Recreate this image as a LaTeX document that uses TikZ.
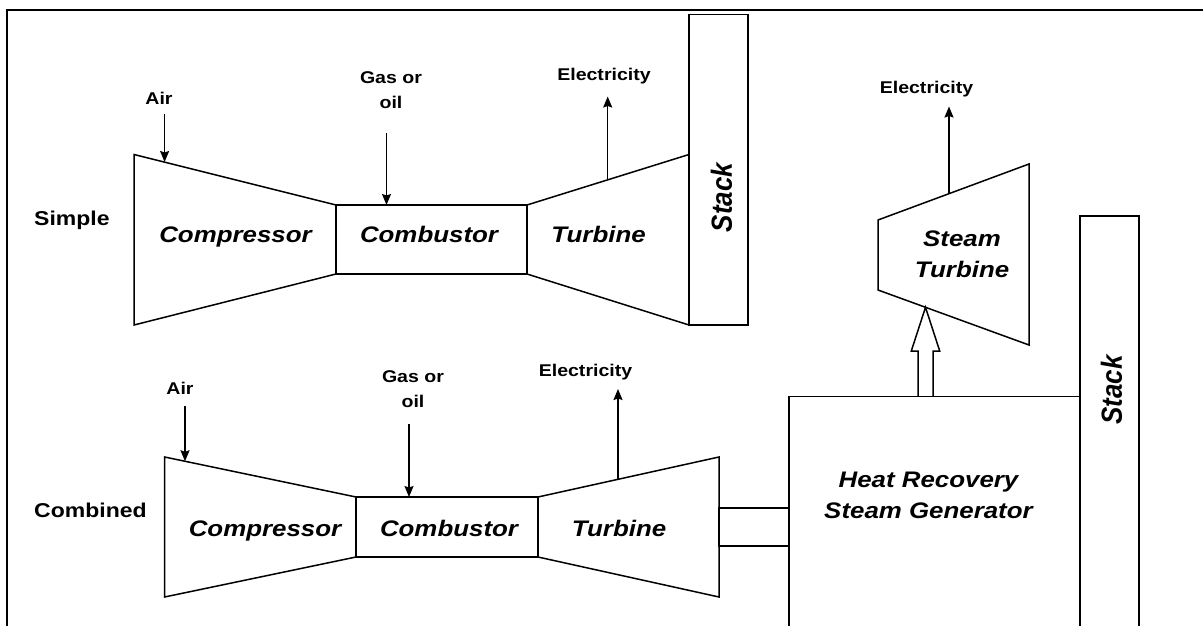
\documentclass[tikz,border=0pt]{standalone}
\usepackage{fontspec}
\usepackage{graphicx}
\setmainfont[FakeStretch=1.15]{Liberation Sans}
\newfontfamily\stackfont{Liberation Sans}
\usetikzlibrary{arrows.meta}
\tikzset{
  part/.style={draw, line width=1.5pt, line join=miter},
  frameline/.style={line width=2.8pt},
  flow/.style={line width=1.5pt, -{Stealth[length=11pt,width=9pt,inset=1.5pt]}},
  lbl/.style={font=\bfseries\fontsize{17}{24.5}\selectfont, inner sep=0pt, align=center},
  rowlbl/.style={font=\bfseries\fontsize{20}{24}\selectfont, inner sep=0pt},
  big/.style={font=\bfseries\itshape\fontsize{22.5}{31}\selectfont, inner sep=0pt, align=center},
  stacklbl/.style={rotate=90, inner sep=0pt}
}
\newcommand{\stacktext}{\scalebox{1}[1.12]{\stackfont\bfseries\itshape\fontsize{26}{30}\selectfont Stack}}
\begin{document}
\begin{tikzpicture}[x=1pt,y=-1pt]
\useasboundingbox (0,0) rectangle (1203,626);
\clip (0,0) rectangle (1203,626);
% frame
\draw[frameline] (7,630) -- (7,10) -- (1210,10);

% ---------- Simple cycle ----------
\coordinate (c1a) at (134,154.5);
\coordinate (c1b) at (336,205);
\coordinate (c1c) at (336,274);
\coordinate (c1d) at (134,325);
\draw[part] (c1a) -- (c1b) -- (c1c) -- (c1d) -- cycle;
\draw[part] (336,205) rectangle (527,274);
\draw[part] (527,205) -- (689,154.5) -- (689,325) -- (527,274) -- cycle;
\draw[part] (689,14.5) rectangle (748,325);

\node[rowlbl, anchor=base west] (simple) at (34,225) {Simple};
\node[big, anchor=base] (comp1) at (235.5,242) {Compressor};
\node[big, anchor=base] (comb1) at (429,242) {Combustor};
\node[big, anchor=base] (turb1) at (598.5,242) {Turbine};
\node[stacklbl] (stack1) at (721.5,197.5) {\stacktext};

\node[lbl, anchor=base] (air1) at (159,105) {Air};
\node[lbl, anchor=base] (gas1) at (391,108) {Gas or\\oil};
\node[lbl, anchor=base] (el1) at (604,81) {Electricity};

\coordinate (air1s) at (164.6,114);
\coordinate (air1e) at (164.6,162);
\draw[flow] (air1s) -- (air1e);
\coordinate (gas1s) at (386.5,133);
\coordinate (gas1e) at (386.5,205);
\draw[flow] (gas1s) -- (gas1e);
\coordinate (el1s) at (607.7,179.8);
\coordinate (el1e) at (607.7,96.5);
\draw[flow] (el1s) -- (el1e);

% ---------- Combined cycle ----------
\draw[part] (164.6,457) -- (356,497) -- (356,557) -- (164.6,597) -- cycle;
\draw[part] (356,497) rectangle (538,557);
\draw[part] (538,497) -- (719,457) -- (719,597) -- (538,557) -- cycle;
\draw[part] (719,508) rectangle (789,546);
\draw[part] (789,640) -- (789,396.5) -- (1080,396.5) -- (1080,640);
\draw[part] (1080,640) -- (1080,216) -- (1139,216) -- (1139,640);
\draw[part] (878,220) -- (1029,164) -- (1029,345) -- (878,290) -- cycle;
% hollow arrow from HRSG to steam turbine
\draw[part] (918,396.5) -- (918,351) -- (911.3,351) -- (925.5,307.3) -- (939.7,351) -- (933,351) -- (933,396.5);

\node[rowlbl, anchor=base west] (combined) at (34,517) {Combined};
\node[big, anchor=base] (comp2) at (265,536) {Compressor};
\node[big, anchor=base] (comb2) at (449,536) {Combustor};
\node[big, anchor=base] (turb2) at (619,536) {Turbine};
\node[big, anchor=base] (hrsg) at (928.5,518) {Heat Recovery\\Steam Generator};
\node[big, anchor=base] (steam) at (962,277) {Steam\\Turbine};
\node[stacklbl] (stack2) at (1111.5,390) {\stacktext};

\node[lbl, anchor=base] (air2) at (180,394) {Air};
\node[lbl, anchor=base] (gas2) at (413,407) {Gas or\\oil};
\node[lbl, anchor=base] (el2) at (585.5,376) {Electricity};
\node[lbl, anchor=base] (el3) at (926.5,94) {Electricity};

\coordinate (air2s) at (185,406);
\coordinate (air2e) at (185,461.3);
\draw[flow] (air2s) -- (air2e);
\coordinate (gas2s) at (409,424);
\coordinate (gas2e) at (409,497);
\draw[flow] (gas2s) -- (gas2e);
\coordinate (el2s) at (618,479);
\coordinate (el2e) at (618,389);
\draw[flow] (el2s) -- (el2e);
\coordinate (el3s) at (949,193.7);
\coordinate (el3e) at (949,106.5);
\draw[flow] (el3s) -- (el3e);
\end{tikzpicture}
\end{document}
